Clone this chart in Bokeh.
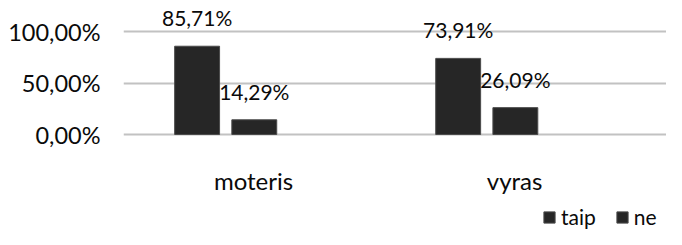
from bokeh.plotting import figure
from bokeh.models import ColumnDataSource, FixedTicker, LabelSet, Legend, LegendItem, Range1d
from bokeh.core.properties import value
from bokeh.embed import file_html
from bokeh.resources import INLINE

categories = ["moteris", "vyras"]
series_names = ["taip", "ne"]
taip_values = [85.71, 73.91]
ne_values = [14.29, 26.09]
y_ticks = [0, 50, 100]
y_tick_labels = ["0,00%", "50,00%", "100,00%"]

FONT = "Lato"
TXT = "#0a0a0a"
BAR = "#262626"

def fmt(v):
    return f"{v:.2f}".replace(".", ",") + "%"

p = figure(width=666, height=229, output_backend="svg", toolbar_location=None,
           x_range=Range1d(-0.498, 1.582), y_range=Range1d(-92.2, 130.1),
           min_border_left=123, min_border_right=0, min_border_top=0, min_border_bottom=0)
p.outline_line_color = None
p.background_fill_color = "white"
p.border_fill_color = "white"

idx = list(range(len(categories)))
offsets = [-0.216, 0.003]
bar_w = 0.172
renderers = []
for name, vals, off in zip(series_names, [taip_values, ne_values], offsets):
    xs = [i + off for i in idx]
    src = ColumnDataSource(dict(x=xs, top=vals, label=[fmt(v) for v in vals]))
    r = p.vbar(x="x", top="top", bottom=0, width=bar_w, source=src,
               fill_color=BAR, line_color="#4a4a4a", line_width=1)
    renderers.append(r)
    p.add_layout(LabelSet(x="x", y="top", text="label", source=src, y_offset=20,
                          text_align="center", text_baseline="alphabetic",
                          text_font=value(FONT), text_font_size="21px", text_color=TXT))

# category labels
p.text(x=idx, y=[-44.7] * len(idx), text=categories, text_align="center",
       text_baseline="alphabetic", text_font=value(FONT), text_font_size="24px",
       text_color=TXT)

p.xaxis.visible = False
p.xgrid.grid_line_color = None

p.yaxis.ticker = FixedTicker(ticks=y_ticks)
p.yaxis.major_label_overrides = {t: l for t, l in zip(y_ticks, y_tick_labels)}
p.yaxis.axis_line_color = None
p.yaxis.major_tick_line_color = None
p.yaxis.minor_tick_line_color = None
p.yaxis.major_tick_out = 0
p.yaxis.major_tick_in = 0
p.yaxis.major_label_standoff = 23
p.yaxis.major_label_text_font = FONT
p.yaxis.major_label_text_font_size = "23.5px"
p.yaxis.major_label_text_color = TXT
p.ygrid.grid_line_color = "#c2c2c2"
p.ygrid.grid_line_width = 2

legend = Legend(items=[LegendItem(label=n, renderers=[r]) for n, r in zip(series_names, renderers)],
                orientation="horizontal", location=(419, 0),
                glyph_width=14, glyph_height=14, label_standoff=5, spacing=19,
                padding=0, margin=0, border_line_color=None, background_fill_alpha=0,
                label_text_font=FONT, label_text_font_size="21px", label_text_color=TXT)
p.add_layout(legend)

open("out.html", "w").write(file_html(p, INLINE))
